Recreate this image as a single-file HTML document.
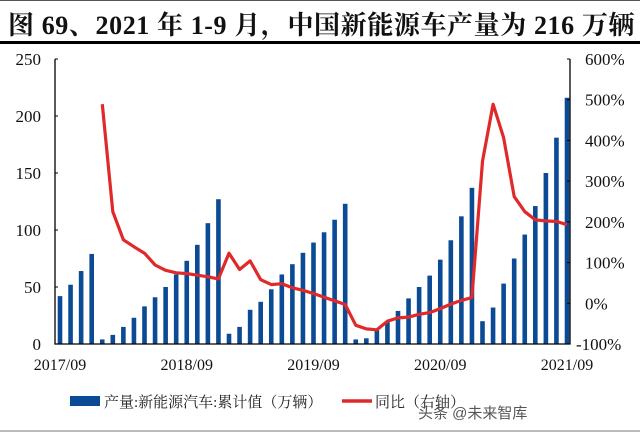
<!DOCTYPE html>
<html><head><meta charset="utf-8">
<style>
html,body{margin:0;padding:0;background:#fff;}
body{width:640px;height:433px;overflow:hidden;position:relative;font-family:"Liberation Serif","Noto Serif CJK SC",serif;}
#title{position:absolute;left:0;top:0;width:640px;border-top:1px solid #555;border-bottom:3px solid #000;box-sizing:border-box;height:44px;}
#title span{position:absolute;left:8px;top:4px;font-size:26px;font-weight:bold;color:#111;letter-spacing:0.6px;white-space:nowrap;font-family:"Liberation Serif","Noto Serif CJK SC",serif;}
#bottomline{position:absolute;left:0;top:430px;width:640px;height:2px;background:#bbb;}
</style></head><body>
<div id="title"><span>图 69、2021 年 1-9 月，中国新能源车产量为 216 万辆</span></div>
<svg id="chart" width="640" height="433" style="position:absolute;left:0;top:0" xmlns="http://www.w3.org/2000/svg"></svg>
<div id="bottomline"></div>
<script>
const months = ["2017/09","2017/10","2017/11","2017/12","2018/01","2018/02","2018/03","2018/04","2018/05","2018/06","2018/07","2018/08","2018/09","2018/10","2018/11","2018/12","2019/01","2019/02","2019/03","2019/04","2019/05","2019/06","2019/07","2019/08","2019/09","2019/10","2019/11","2019/12","2020/01","2020/02","2020/03","2020/04","2020/05","2020/06","2020/07","2020/08","2020/09","2020/10","2020/11","2020/12","2021/01","2021/02","2021/03","2021/04","2021/05","2021/06","2021/07","2021/08","2021/09"];
const production = [42,52,64,79,4,8,15,23,33,41,50,61,73,87,106,127,9,15,30,37,48,61,70,80,89,98,109,123,4,5,12,19,29,40,50,60,74,91,112,137,20,32,53,75,96,121,150,181,216];
const yoy = [null,null,null,null,489,225,156,139,123,94,81,75,73,69,65,60,123,83,104,58,46,48,38,32,24,15,6,-3,-54,-63,-65,-44,-36,-34,-27,-23,-13,-2,7,14,349,489,407,262,225,205,202,201,193];
const leftTicks = [0,50,100,150,200,250];
const rightTicks = [-100,0,100,200,300,400,500,600];
const xLabels = ["2017/09","2018/09","2019/09","2020/09","2021/09"];

const svg = document.getElementById('chart');
const NS = "http://www.w3.org/2000/svg";
const X0=55, X1=570, Y0=344, Y1=59;
const yL = v => Y0 - (v/250)*(Y0-Y1);
const yR = v => Y0 - ((v+100)/700)*(Y0-Y1);
const xM = i => 60 + i*(507/48);
function mk(tag, attrs, parent){const e=document.createElementNS(NS,tag);for(const k in attrs)e.setAttribute(k,attrs[k]);(parent||svg).appendChild(e);return e;}
const FONT='"Liberation Serif","Noto Serif CJK SC",serif';

production.forEach((v,i)=>{
  const r=mk('rect',{x:xM(i)-2.3,y:yL(v),width:4.6,height:Y0-yL(v),fill:'#0b4a94'});
  
  
});
let d='';
yoy.forEach((v,i)=>{ if(v===null) return; d+=(d?'L':'M')+xM(i).toFixed(1)+','+yR(v).toFixed(1);});
const ln=mk('path',{d:d,fill:'none',stroke:'#e02a2a','stroke-width':3.2,'stroke-linejoin':'round'});



const ax=mk('path',{d:`M${X0},${Y1}V${Y0}H${X1}V${Y1}`,fill:'none',stroke:'#000','stroke-width':1.3});


leftTicks.forEach(t=>{
  mk('line',{x1:X0,x2:X0+3,y1:yL(t),y2:yL(t),stroke:'#000'});
  const tx=mk('text',{x:X0-14,y:yL(t)+6,'text-anchor':'end','font-size':17,'font-family':FONT,fill:'#111'});
  tx.textContent=t;
  
  
});
rightTicks.forEach(t=>{
  mk('line',{x1:X1-3,x2:X1,y1:yR(t),y2:yR(t),stroke:'#000'});
  const tx=mk('text',{x:X1+15,y:yR(t)+6,'text-anchor':'start','font-size':17,'font-family':FONT,fill:'#111'});
  tx.textContent=t+'%';
  if(t<0) tx.setAttribute('x',X1+6);
  
  
});
xLabels.forEach(l=>{
  const i=months.indexOf(l);
  const tx=mk('text',{x:xM(i),y:370,'text-anchor':'middle','font-size':16,'font-family':FONT,fill:'#111'});
  tx.textContent=l;
  
  
});
const lg1=mk('rect',{x:70,y:396,width:30,height:10,fill:'#0b4a94'});


const lt1=mk('text',{x:104,y:407,'font-size':15,'font-family':FONT,fill:'#222'});
lt1.textContent='产量:新能源汽车:累计值（万辆）';


const lg2=mk('line',{x1:342,x2:372,y1:401,y2:401,stroke:'#e02a2a','stroke-width':3.5});


const lt2=mk('text',{x:375,y:407,'font-size':15,'font-family':FONT,fill:'#222'});
lt2.textContent='同比（右轴）';


const wm=mk('text',{x:418,y:418,'font-size':15,'font-family':'"Liberation Sans","Noto Sans CJK SC",sans-serif',fill:'#555'});
wm.textContent='头条 @未来智库';


</script>
</body></html>
